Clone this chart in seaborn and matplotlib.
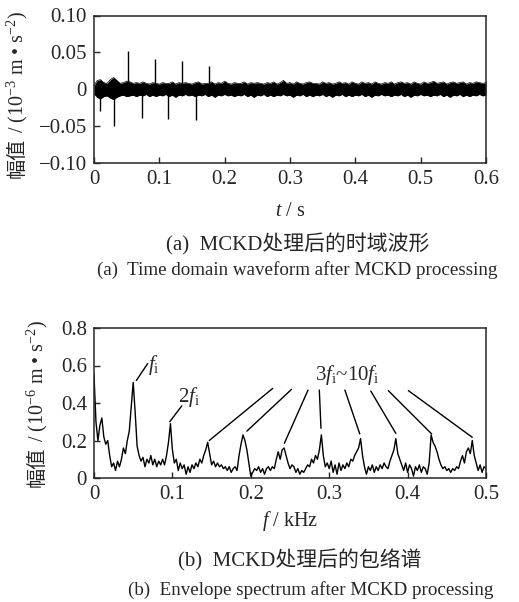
import numpy as np
import matplotlib
matplotlib.use("Agg")
import matplotlib.pyplot as plt
import seaborn as sns

# ---------------- data ----------------
# (a) time-domain waveform: noise band envelope (every 0.005 s) and impulse spikes
t_grid = np.linspace(0.0, 0.6, 121)
band_upper = [0.005, 0.012, 0.013, 0.009, 0.008, 0.013, 0.016, 0.012, 0.008, 0.009,
              0.011, 0.010, 0.008, 0.009, 0.008, 0.010, 0.008, 0.007, 0.009, 0.008,
              0.007, 0.009, 0.008, 0.008, 0.010, 0.007, 0.009, 0.008, 0.009, 0.008,
              0.007, 0.009, 0.010, 0.007, 0.008, 0.008, 0.010, 0.007, 0.009, 0.008,
              0.011, 0.008, 0.007, 0.009, 0.008, 0.008, 0.010, 0.007, 0.009, 0.008,
              0.009, 0.008, 0.007, 0.009, 0.008, 0.010, 0.007, 0.009, 0.012, 0.008,
              0.009, 0.007, 0.010, 0.008, 0.007, 0.009, 0.010, 0.008, 0.008, 0.007,
              0.010, 0.008, 0.009, 0.007, 0.008, 0.010, 0.008, 0.009, 0.007, 0.010,
              0.008, 0.007, 0.010, 0.008, 0.009, 0.007, 0.010, 0.008, 0.007, 0.009,
              0.008, 0.010, 0.007, 0.009, 0.010, 0.008, 0.009, 0.007, 0.010, 0.008,
              0.007, 0.010, 0.008, 0.009, 0.011, 0.008, 0.009, 0.010, 0.007, 0.009,
              0.010, 0.008, 0.009, 0.010, 0.007, 0.009, 0.008, 0.010, 0.009, 0.008,
              0.009]
band_lower = [-0.006, -0.011, -0.013, -0.010, -0.009, -0.012, -0.014, -0.011, -0.009, -0.008,
              -0.010, -0.009, -0.008, -0.010, -0.008, -0.009, -0.007, -0.010, -0.008, -0.010,
              -0.008, -0.009, -0.007, -0.010, -0.008, -0.011, -0.008, -0.009, -0.007, -0.009,
              -0.008, -0.010, -0.008, -0.009, -0.007, -0.010, -0.008, -0.011, -0.008, -0.009,
              -0.007, -0.009, -0.008, -0.010, -0.008, -0.009, -0.007, -0.010, -0.008, -0.011,
              -0.008, -0.009, -0.007, -0.010, -0.008, -0.010, -0.008, -0.009, -0.007, -0.009,
              -0.008, -0.011, -0.008, -0.009, -0.007, -0.010, -0.008, -0.010, -0.008, -0.009,
              -0.007, -0.010, -0.008, -0.011, -0.008, -0.009, -0.007, -0.010, -0.008, -0.010,
              -0.008, -0.009, -0.007, -0.010, -0.008, -0.011, -0.008, -0.009, -0.007, -0.009,
              -0.008, -0.010, -0.008, -0.009, -0.007, -0.010, -0.008, -0.011, -0.008, -0.009,
              -0.007, -0.009, -0.008, -0.010, -0.008, -0.009, -0.007, -0.010, -0.008, -0.011,
              -0.008, -0.009, -0.007, -0.010, -0.008, -0.010, -0.008, -0.009, -0.007, -0.009,
              -0.008]
spike_t = [0.0097, 0.0306, 0.0516, 0.0735, 0.0934, 0.1140, 0.1348, 0.1557, 0.1766]
spike_amp = [-0.029, -0.050, 0.052, -0.039, 0.041, -0.041, 0.038, -0.042, 0.032]

# (b) envelope spectrum, every 0.0025 kHz
f_grid = np.linspace(0.0, 0.5, 201)
spectrum = [0.55, 0.30, 0.20, 0.28, 0.32, 0.22, 0.18, 0.20, 0.12, 0.06,
            0.08, 0.04, 0.09, 0.06, 0.10, 0.16, 0.13, 0.20, 0.25, 0.38,
            0.51, 0.35, 0.17, 0.12, 0.09, 0.11, 0.06, 0.10, 0.08, 0.12,
            0.07, 0.10, 0.06, 0.09, 0.07, 0.10, 0.07, 0.12, 0.19, 0.29,
            0.15, 0.08, 0.10, 0.04, 0.08, 0.05, 0.07, 0.02, 0.06, 0.03,
            0.07, 0.05, 0.08, 0.06, 0.10, 0.08, 0.12, 0.15, 0.19, 0.13,
            0.07, 0.09, 0.06, 0.08, 0.06, 0.07, 0.05, 0.06, 0.04, 0.06,
            0.03, 0.05, 0.06, 0.04, 0.12, 0.18, 0.23, 0.20, 0.15, 0.08,
            0.01, 0.03, 0.05, 0.04, 0.06, 0.03, 0.05, 0.02, 0.05, 0.06,
            0.04, 0.06, 0.05, 0.10, 0.14, 0.10, 0.15, 0.16, 0.12, 0.08,
            0.05, 0.07, 0.06, 0.03, 0.05, 0.02, 0.04, 0.03, 0.05, 0.07,
            0.06, 0.10, 0.08, 0.12, 0.10, 0.15, 0.23, 0.12, 0.06, 0.08,
            0.05, 0.09, 0.03, 0.07, 0.02, 0.08, 0.04, 0.07, 0.05, 0.08,
            0.06, 0.10, 0.09, 0.12, 0.14, 0.16, 0.21, 0.12, 0.06, 0.02,
            0.06, 0.04, 0.07, 0.03, 0.06, 0.04, 0.07, 0.05, 0.08, 0.06,
            0.05, 0.09, 0.12, 0.15, 0.21, 0.13, 0.10, 0.07, 0.04, 0.08,
            0.03, 0.07, 0.05, 0.01, 0.06, 0.04, 0.07, 0.03, 0.06, 0.05,
            0.02, 0.08, 0.23, 0.19, 0.17, 0.14, 0.10, 0.07, 0.05, 0.06,
            0.04, 0.05, 0.03, 0.05, 0.04, 0.06, 0.05, 0.09, 0.12, 0.08,
            0.14, 0.16, 0.13, 0.20, 0.12, 0.08, 0.04, 0.07, 0.03, 0.06,
            0.05]

# annotation leader lines: (peak f, peak amp) -> (label-end f, label-end amp)
fi_line_f = [0.054, 0.0684]
fi_line_a = [0.52, 0.61]
f2_line_f = [0.0966, 0.112]
f2_line_a = [0.30, 0.385]
harm_peak_f = [0.147, 0.195, 0.2428, 0.2895, 0.339, 0.385, 0.4307, 0.4825]
harm_peak_a = [0.20, 0.25, 0.185, 0.265, 0.235, 0.238, 0.235, 0.217]
harm_end_f = [0.228, 0.252, 0.273, 0.2874, 0.320, 0.353, 0.3754, 0.401]
harm_end_a = [0.478, 0.473, 0.469, 0.469, 0.469, 0.464, 0.466, 0.466]

t_ticks = [0, 0.1, 0.2, 0.3, 0.4, 0.5, 0.6]
t_ticklabels = ["0", "0.1", "0.2", "0.3", "0.4", "0.5", "0.6"]
a_yticks = [-0.10, -0.05, 0, 0.05, 0.10]
a_yticklabels = ["\u22120.10", "\u22120.05", "0", "0.05", "0.10"]
f_ticks = [0, 0.1, 0.2, 0.3, 0.4, 0.5]
f_ticklabels = ["0", "0.1", "0.2", "0.3", "0.4", "0.5"]
b_yticks = [0, 0.2, 0.4, 0.6, 0.8]
b_yticklabels = ["0", "0.2", "0.4", "0.6", "0.8"]

# ---------------- style ----------------
sns.set_style("ticks")
SERIF = ["Liberation Serif", "Noto Sans CJK SC", "DejaVu Sans"]
plt.rcParams["font.family"] = SERIF
plt.rcParams["mathtext.fontset"] = "custom"
plt.rcParams["mathtext.rm"] = "Liberation Serif"
plt.rcParams["mathtext.it"] = "Liberation Serif:italic"
plt.rcParams["axes.linewidth"] = 1.1

W, H = 519, 602
fig = plt.figure(figsize=(W / 100, H / 100), dpi=100)


def px_axes(l, t, r, b):
    return fig.add_axes([l / W, 1 - b / H, (r - l) / W, (b - t) / H])


TICK_FS = 15
LAB_FS = 14.5
ANN_FS = 15

# ---------- (a) ----------
ax1 = px_axes(94, 15.5, 486, 163)
ax1.fill_between(t_grid, band_lower, band_upper, color="black", lw=0)
sns.lineplot(x=t_grid, y=band_upper, ax=ax1, color="black", lw=0.5)
sns.lineplot(x=t_grid, y=band_lower, ax=ax1, color="black", lw=0.5)
ax1.vlines(spike_t, 0, spike_amp, color="black", lw=1.0)
ax1.set_xlim(0, 0.6)
ax1.set_ylim(-0.10, 0.10)
ax1.set_xticks(t_ticks, t_ticklabels)
ax1.set_yticks(a_yticks, a_yticklabels)

# ---------- (b) ----------
ax2 = px_axes(94, 328, 486, 478)
sns.lineplot(x=f_grid, y=spectrum, ax=ax2, color="black", lw=1.0)
ax2.set_xlim(0, 0.5)
ax2.set_ylim(0, 0.8)
ax2.set_xticks(f_ticks, f_ticklabels)
ax2.set_yticks(b_yticks, b_yticklabels)
ax2.plot(fi_line_f, fi_line_a, color="black", lw=1.0)
ax2.plot(f2_line_f, f2_line_a, color="black", lw=1.0)
for pf, pa, ef, ea in zip(harm_peak_f, harm_peak_a, harm_end_f, harm_end_a):
    ax2.plot([pf, ef], [pa, ea], color="black", lw=1.0)
ax2.text(0.069, 0.575, "$f_{\\rm i}$", fontsize=ANN_FS, ha="left", va="baseline")
ax2.text(0.107, 0.405, "2$f_{\\rm i}$", fontsize=ANN_FS, ha="left", va="baseline")
ax2.text(0.282, 0.523, "3$f_{\\rm i}$~10$f_{\\rm i}$", fontsize=ANN_FS, ha="left", va="baseline")

for ax in (ax1, ax2):
    ax.tick_params(axis="both", which="both", direction="in", length=4, width=1.0,
                   labelsize=TICK_FS, pad=5, top=False, right=False)
    for s in ax.spines.values():
        s.set_visible(True)
        s.set_linewidth(1.1)
    ax.set_xlabel("")
    ax.set_ylabel("")


def ylabel(ax, x_px, y_bottom_px, exp):
    t1 = fig.text(x_px / W, 1 - y_bottom_px / H, "幅值", rotation=90, ha="center", va="bottom",
                  fontsize=LAB_FS, family=["Noto Sans CJK SC"])
    fig.canvas.draw()
    ax.annotate(" / (10$^{-%d}$ m \u2022 s$^{-2}$)" % exp, xy=(0.5, 1.0), xycoords=t1,
                rotation=90, ha="center", va="bottom", fontsize=LAB_FS,
                family=["Liberation Serif"], annotation_clip=False)


ylabel(ax1, 17, 178, 3)
ylabel(ax2, 37, 487, 6)

fig.text(290 / W, 1 - 212 / H, "$t$ / s", ha="center", va="center", fontsize=LAB_FS)
fig.text(290 / W, 1 - 521 / H, "$f$ / kHz", ha="center", va="center", fontsize=LAB_FS)

fig.text(298 / W, 1 - 244 / H, "(a)  MCKD处理后的时域波形", ha="center", va="center", fontsize=15)
fig.text(297 / W, 1 - 270 / H, "(a)  Time domain waveform after MCKD processing",
         ha="center", va="center", fontsize=13.7)
fig.text(300 / W, 1 - 560 / H, "(b)  MCKD处理后的包络谱", ha="center", va="center", fontsize=15)
fig.text(311 / W, 1 - 590 / H, "(b)  Envelope spectrum after MCKD processing",
         ha="center", va="center", fontsize=13.7)

fig.savefig("out.png", dpi=100)
